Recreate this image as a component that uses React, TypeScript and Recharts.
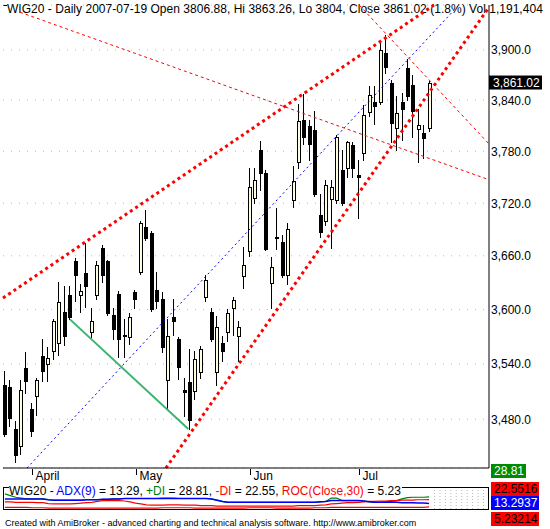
import React from 'react';
import { ComposedChart, LineChart, Line, Bar, XAxis, YAxis, CartesianGrid, ReferenceLine } from 'recharts';

const FONT = '"Liberation Sans", Arial, sans-serif';

// WIG20 daily sessions 2007-03-26 .. 2007-07-19, one entry per bar
const opens = [
  3517, 3515, 3470, 3451, 3535, 3491, 3505, 3549, 3540, 3554,
  3563, 3597, 3616, 3654, 3616, 3641, 3575, 3616, 3669, 3654,
  3594, 3617, 3572, 3569, 3619, 3642, 3693, 3686, 3622, 3611,
  3522, 3592, 3567, 3511, 3520, 3510, 3531, 3614, 3597, 3531,
  3563, 3575, 3601, 3571, 3637, 3665, 3726, 3782, 3755, 3629,
  3681, 3676, 3638, 3723, 3767, 3817, 3809, 3805, 3706, 3699,
  3725, 3723, 3758, 3760, 3787, 3752, 3778, 3826, 3838, 3838,
  3896, 3861, 3807, 3838, 3878, 3858, 3806, 3801, 3806.88,
];
const highs = [
  3532, 3522, 3478, 3522, 3553, 3497, 3524, 3567, 3558, 3589,
  3630, 3626, 3626, 3658, 3628, 3675, 3602, 3654, 3672, 3655,
  3601, 3620, 3589, 3596, 3622, 3699, 3712, 3688, 3642, 3619,
  3589, 3612, 3569, 3525, 3556, 3554, 3560, 3638, 3602, 3593,
  3571, 3600, 3614, 3587, 3670, 3761, 3761, 3792, 3758, 3659,
  3714, 3683, 3697, 3763, 3836, 3847, 3817, 3827, 3731, 3747,
  3747, 3799, 3782, 3792, 3791, 3770, 3834, 3857, 3857, 3908,
  3918, 3864, 3845, 3848, 3889, 3870, 3830, 3811, 3863.26,
];
const lows = [
  3462, 3473, 3434, 3443, 3508, 3462, 3484, 3521, 3521, 3545,
  3550, 3561, 3589, 3609, 3597, 3603, 3569, 3611, 3630, 3594,
  3567, 3547, 3547, 3562, 3602, 3640, 3678, 3598, 3602, 3553,
  3491, 3572, 3523, 3483, 3470, 3502, 3525, 3609, 3565, 3517,
  3543, 3565, 3572, 3543, 3624, 3660, 3720, 3735, 3666, 3601,
  3668, 3636, 3628, 3715, 3761, 3788, 3770, 3728, 3681, 3695,
  3669, 3720, 3718, 3750, 3750, 3703, 3770, 3821, 3812, 3836,
  3872, 3791, 3782, 3793, 3840, 3797, 3767, 3772, 3804,
];
const closes = [
  3464, 3481, 3442, 3511, 3521, 3467, 3522, 3532, 3546, 3587,
  3608, 3570, 3591, 3638, 3620, 3626, 3587, 3650, 3638, 3596,
  3578, 3567, 3570, 3591, 3611, 3697, 3680, 3600, 3609, 3558,
  3570, 3587, 3536, 3509, 3479, 3545, 3556, 3633, 3567, 3581,
  3554, 3596, 3610, 3581, 3650, 3738, 3747, 3755, 3668, 3647,
  3680, 3638, 3690, 3745, 3816, 3797, 3788, 3730, 3687, 3741,
  3738, 3797, 3720, 3791, 3760, 3750, 3823, 3846, 3833, 3900,
  3880, 3813, 3825, 3830, 3845, 3827, 3811, 3795, 3861.02,
];

const monthTicks = [5, 24, 45, 65];
const monthLabels = ['April', 'May', 'Jun', 'Jul'];
const priceTicks = [3480, 3540, 3600, 3660, 3720, 3780, 3840, 3900];
const priceDomain = [3428, 3954.5];
const barDomain = [-0.35, 88.83];

// trendlines, [bar, price] pairs
const upperChannel = [[-0.35, 3612.6], [78.73, 3954.5]];
const lowerChannel = [[29.54, 3428], [88.83, 3951.7]];
const blueTrend = [[4.06, 3428], [83.3, 3954.5]];
const fanA = [[2.77, 3945.7], [88.83, 3746.9]];
const fanB = [[65.0, 3954.5], [88.83, 3788.5]];
const greenTrend = [[11.94, 3588.9], [33.65, 3469.5]];

// indicator pane
const adx = [
  24, 24, 24, 24, 24, 24, 24, 24, 22, 21,
  21, 21, 21, 21, 21, 22, 22, 22, 23, 23,
  24, 24, 25, 25, 25, 25, 25, 25, 25, 25,
  25, 25, 25, 25, 25, 25, 25, 25, 24, 21,
  18, 16, 16, 16, 16, 16, 16, 16, 16, 16,
  16, 16, 16, 16, 16, 16, 16, 16, 17, 18,
  20, 20, 20, 20, 20, 20, 19, 17, 16, 16,
  16, 16, 16, 15, 15, 15, 14, 14, 13.29,
];
const plusDI = [
  36, 32, 28, 26, 24, 24, 24, 24, 22, 21,
  21, 21, 21, 21, 21, 22, 22, 22, 23, 23,
  24, 24, 25, 25, 25, 25, 25, 25, 25, 26,
  26, 26, 25, 25, 25, 25, 25, 25, 24, 21,
  18, 16, 16, 16, 16, 16, 16, 16, 16, 16,
  16, 16, 16, 16, 16, 16, 16, 16, 17, 18,
  26, 26, 20, 20, 20, 20, 19, 17, 16, 16,
  17, 18, 20, 24, 27, 28, 28, 28, 28.81,
];
const minusDI = [
  17, 17, 16, 16, 16, 16, 15, 15, 13, 12,
  12, 12, 12, 13, 14, 15, 16, 18, 20, 20,
  20, 20, 19, 17, 14, 12, 10, 9, 9, 9,
  10, 10, 10, 9, 9, 9, 8, 8, 8, 7,
  7, 7, 7, 7, 7, 7, 7, 7, 7, 7,
  7, 7, 7, 7, 8, 8, 8, 8, 9, 10,
  12, 13, 14, 15, 15, 16, 17, 18, 18, 19,
  19, 20, 20, 21, 21, 21, 22, 22, 22.55,
];
const roc = [
  4, 4, 4, 4, 4, 3, 3, 3, 2, 2,
  2, 2, 2, 2, 2, 2, 2, 2, 2, 2,
  2, 2, 2, 2, 2, 2, 2, 2, 2, 3,
  3, 3, 3, 3, 3, 2, 2, 2, 2, 2,
  2, 2, 2, 2, 2, 3, 3, 3, 3, 3,
  2, 2, 2, 2, 2, 2, 2, 3, 3, 3,
  4, 4, 4, 4, 4, 4, 4, 4, 4, 4,
  4, 4, 4, 4, 4, 4, 4, 4, 5.23,
];
const emptySlots = [79, 80, 81, 82, 83, 84, 85, 86, 87, 88];

const candles = opens.map((o, i) => ({ i, open: o, high: highs[i], low: lows[i], close: closes[i] }));
const indicators = adx.map((a, i) => ({ i, adx: a, plus: plusDI[i], minus: minusDI[i], roc: roc[i] }));
const lastClose = closes[closes.length - 1];

const seg = (p: number[][]) => p.map(([x, y]) => ({ x, y }));
const fmtPrice = (v: number) => v.toLocaleString('en-US', { minimumFractionDigits: 1, maximumFractionDigits: 1 });

function Candle(props: any) {
  const { x, y, width, height, payload } = props;
  if (x == null || y == null) return null;
  const { open, close, high, low } = payload;
  const span = Math.log(high / low) || 1;
  const py = (v: number) => y + (height * Math.log(high / v)) / span;
  const left = Math.round(x + width / 2 - 2);
  const up = close >= open;
  const t = Math.round(py(Math.max(open, close)));
  const b = Math.round(py(Math.min(open, close)));
  return (
    <g shapeRendering="crispEdges">
      <line x1={left + 1.5} x2={left + 1.5} y1={Math.round(y)} y2={Math.round(y + height) + 1} stroke="#000" />
      <rect x={left + 0.5} y={t + 0.5} width={3} height={Math.max(b - t, 1)}
        fill={up ? '#ffffe0' : '#000'} stroke="#000" />
    </g>
  );
}

function PriceTick(props: any) {
  const { y, payload } = props;
  return <text x={491} y={y + 4.5} fontSize={12} fill="#000" fontFamily={FONT}>{fmtPrice(payload.value)}</text>;
}

function MonthTick(props: any) {
  const { x, payload } = props;
  const label = monthLabels[monthTicks.indexOf(payload.value)];
  const tx = Math.round(x) + 0.5;
  return (
    <g>
      <line x1={tx} x2={tx} y1={469} y2={475} stroke="#000" />
      <text x={tx + 3} y={480} fontSize={12} fill="#000" fontFamily={FONT}>{label}</text>
    </g>
  );
}

function PriceTag(props: any) {
  const vb = props.viewBox || {};
  const x = vb.x + vb.width;
  const y = vb.y;
  return (
    <g>
      <rect x={x} y={y - 7} width={53} height={14} fill="#000" />
      <text x={x + 4} y={y + 4.5} fontSize={12} fill="#fff" fontFamily={FONT}>{lastClose.toFixed(2).replace(/^(\d)(\d{3})/, '$1,$2')}</text>
    </g>
  );
}

const box = (left: number, top: number, w: number, bg: string, color: string, text: string) => (
  <div style={{ position: 'absolute', left, top, width: w, height: 14, background: bg, color, fontSize: 12, lineHeight: '14px', paddingLeft: 3, boxSizing: 'border-box' }}>{text}</div>
);

export default function App() {
  return (
    <div style={{ position: 'absolute', left: 0, top: 0, width: 550, height: 529, background: '#fff', overflow: 'hidden', fontFamily: FONT, color: '#000' }}>
      <div style={{ position: 'absolute', left: 7, top: 2, fontSize: 12, lineHeight: '14px', whiteSpace: 'nowrap', letterSpacing: 0.03 }}>
        WIG20 - Daily 2007-07-19 Open 3806.88, Hi 3863.26, Lo 3804, Close 3861.02 (1.8%) Vol 1,191,404
      </div>
      <div style={{ position: 'absolute', left: 3, top: 5, width: 4, height: 1, background: '#000' }} />

      <div style={{ position: 'absolute', left: 0, top: 0 }}>
        <ComposedChart width={550} height={490} data={candles} margin={{ top: 5, right: 0, bottom: 0, left: 3 }}>
          <CartesianGrid vertical={false} stroke="#b8b8b8" strokeDasharray="1 7" />
          <XAxis type="number" dataKey="i" domain={barDomain} allowDataOverflow ticks={monthTicks}
            tick={<MonthTick />} tickLine={false} axisLine={{ stroke: '#000' }} height={22} interval={0} />
          <YAxis orientation="right" scale="log" domain={priceDomain} allowDataOverflow ticks={priceTicks}
            tick={<PriceTick />} tickLine={false} axisLine={{ stroke: '#000' }} width={61} interval={0} />
          <YAxis yAxisId="left" orientation="left" scale="log" domain={priceDomain} allowDataOverflow
            tick={false} tickLine={false} axisLine={{ stroke: '#000' }} width={0} />
          <Bar dataKey={(d: any) => [d.low, d.high]} barSize={5} shape={<Candle />} isAnimationActive={false} />
          <ReferenceLine segment={seg(greenTrend)} stroke="#3cb371" strokeWidth={2} ifOverflow="visible" />
          <ReferenceLine segment={seg(blueTrend)} stroke="#0000ff" strokeWidth={1} strokeDasharray="2 3" ifOverflow="visible" />
          <ReferenceLine segment={seg(fanA)} stroke="#ff0000" strokeWidth={1} strokeDasharray="3 3" ifOverflow="visible" />
          <ReferenceLine segment={seg(fanB)} stroke="#ff0000" strokeWidth={1} strokeDasharray="3 3" ifOverflow="visible" />
          <ReferenceLine segment={seg(upperChannel)} stroke="#ff0000" strokeWidth={3} strokeDasharray="3 3.4" ifOverflow="visible" />
          <ReferenceLine segment={seg(lowerChannel)} stroke="#ff0000" strokeWidth={3} strokeDasharray="3 3.4" ifOverflow="visible" />
          <ReferenceLine y={lastClose} stroke="none" label={(p: any) => <PriceTag {...p} />} />
        </ComposedChart>
      </div>

      <div style={{ position: 'absolute', left: 3, top: 487, width: 486, height: 23, border: '1px solid #000', boxSizing: 'border-box' }} />
      <div style={{ position: 'absolute', left: 9, top: 484, fontSize: 12, lineHeight: '14px', whiteSpace: 'nowrap', background: '#fff', paddingRight: 1 }}>
        WIG20 - <span style={{ color: '#0000ff' }}>ADX(9)</span> = 13.29, <span style={{ color: '#008000' }}>+DI</span> = 28.81, <span style={{ color: '#ff0000' }}>-DI</span> = 22.55, <span style={{ color: '#ff0000' }}>ROC(Close,30)</span> = 5.23
      </div>
      <div style={{ position: 'absolute', left: 0, top: 486 }}>
        <LineChart width={550} height={25} data={indicators} margin={{ top: 2, right: 62, bottom: 2, left: 3 }}>
          <XAxis type="number" dataKey="i" domain={barDomain} allowDataOverflow hide />
          <YAxis domain={[0, 50]} allowDataOverflow hide />
          {emptySlots.map(s => (
            <ReferenceLine key={s} x={s} stroke="#b8b8b8" strokeDasharray="1 2" />
          ))}
          <Line dataKey="plus" stroke="#008000" strokeWidth={1.2} dot={false} isAnimationActive={false} />
          <Line dataKey="minus" stroke="#ff0000" strokeWidth={1.2} dot={false} isAnimationActive={false} />
          <Line dataKey="roc" stroke="#ff0000" strokeWidth={1.2} dot={false} isAnimationActive={false} />
          <Line dataKey="adx" stroke="#0000ff" strokeWidth={1.5} dot={false} isAnimationActive={false} />
        </LineChart>
      </div>

      {box(491, 464, 35, '#008c00', '#fff', '28.81')}
      {box(491, 482, 48, '#ff0000', '#000', '22.5516')}
      {box(491, 496, 48, '#0000ff', '#fff', '13.2937')}
      {box(491, 512, 48, '#ff0000', '#000', '5.23214')}

      <div style={{ position: 'absolute', left: 5, top: 518, fontSize: 9, lineHeight: '10px', whiteSpace: 'nowrap' }}>
        Created with AmiBroker - advanced charting and technical analysis software. http://www.amibroker.com
      </div>
    </div>
  );
}
